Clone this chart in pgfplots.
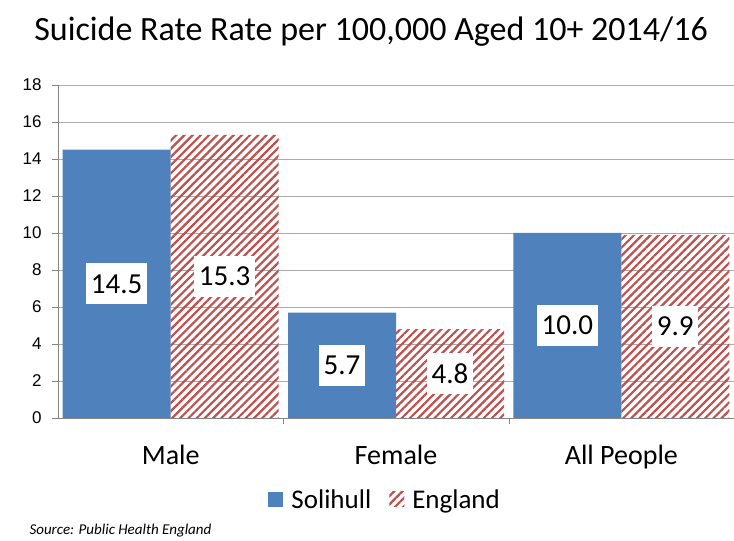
\documentclass[border=0pt]{standalone}
\usepackage{pgfplots}
\pgfplotsset{compat=1.18}
\usepackage{pgfplotstable}
\usetikzlibrary{patterns.meta}
\usepackage{fontspec}
\setmainfont{Carlito}
\newfontfamily\arialf{Liberation Sans}
\definecolor{sblue}{HTML}{4F81BD}
\definecolor{ered}{HTML}{C0504D}
\definecolor{gridc}{HTML}{ABABAB}
\definecolor{axisc}{HTML}{868686}
\pgfplotstableread{
x v
0 14.5
1 5.7
2 10.0
}\solihull
\pgfplotstableread{
x v
0 15.3
1 4.8
2 9.9
}\england
\begin{document}
\begin{tikzpicture}
\useasboundingbox (0,0) rectangle (734pt,541pt);
\node[font=\fontsize{34}{40}\selectfont] at (371pt,509pt) {Suicide Rate Rate per 100,000 Aged 10+ 2014/16};
\node[font=\fontsize{15}{17}\selectfont\itshape, anchor=west] at (26pt,10pt) {Source: Public Health England};
\begin{axis}[
  at={(58pt,123pt)}, anchor=south west,
  width=676pt, height=333pt, scale only axis,
  ybar=0pt, bar width=108pt,
  xmin=-0.5, xmax=2.5, ymin=0, ymax=18,
  ytick={0,2,...,18},
  xtick={0,1,2}, xticklabels={Male,Female,All People},
  major x tick style={draw=none},
  extra x ticks={0.5,1.5,2.5}, extra x tick labels={},
  extra x tick style={major tick length=6pt, tick align=outside, xmajorgrids=false, major x tick style={draw=axisc}},
  axis x line*=bottom, axis y line*=left,
  axis line style={draw=axisc, line width=0.8pt},
  y axis line style={-}, x axis line style={-},
  ytick style={draw=axisc, line width=0.8pt},
  tick align=outside, major tick length=6pt,
  ymajorgrids, grid style={draw=gridc, line width=0.8pt},
  /pgf/number format/assume math mode=true,
  yticklabel style={font=\arialf\fontsize{17}{19}\selectfont, xshift=-7pt},
  xticklabel style={font=\fontsize{28}{32}\selectfont, yshift=-18pt},
  legend style={at={(0.484,-0.246)}, anchor=center, draw=none, legend columns=2,
    font=\fontsize{27}{31}\selectfont, /tikz/every even column/.append style={column sep=16pt},
    /tikz/every odd column/.append style={column sep=6pt}},
  legend image code/.code={\draw[#1, draw=none] (0pt,-7pt) rectangle (15pt,8pt);},
  clip=false,
]
\addplot[fill=sblue, draw=none, bar shift=-54pt] table[x=x, y=v] {\solihull};
\addlegendentry{Solihull}
\addplot[draw=none, pattern={Lines[angle=45, distance=5.8pt, line width=2.2pt]}, pattern color=ered, bar shift=54pt] table[x=x, y=v] {\england};
\addlegendentry{England}
\addplot[draw=none, fill=none, bar shift=-54pt, forget plot,
  nodes near coords, point meta=explicit,
  nodes near coords style={anchor=center, fill=white, text=black, font=\fontsize{29}{33}\selectfont, inner xsep=4.5pt, minimum height=41pt, /pgf/number format/.cd, fixed, fixed zerofill, precision=1}]
  table[x=x, y expr=\thisrow{v}/2, meta=v] {\solihull};
\addplot[draw=none, fill=none, bar shift=54pt, forget plot,
  nodes near coords, point meta=explicit,
  nodes near coords style={anchor=center, fill=white, text=black, font=\fontsize{29}{33}\selectfont, inner xsep=4.5pt, minimum height=41pt, /pgf/number format/.cd, fixed, fixed zerofill, precision=1}]
  table[x=x, y expr=\thisrow{v}/2, meta=v] {\england};
\end{axis}
\end{tikzpicture}
\end{document}
